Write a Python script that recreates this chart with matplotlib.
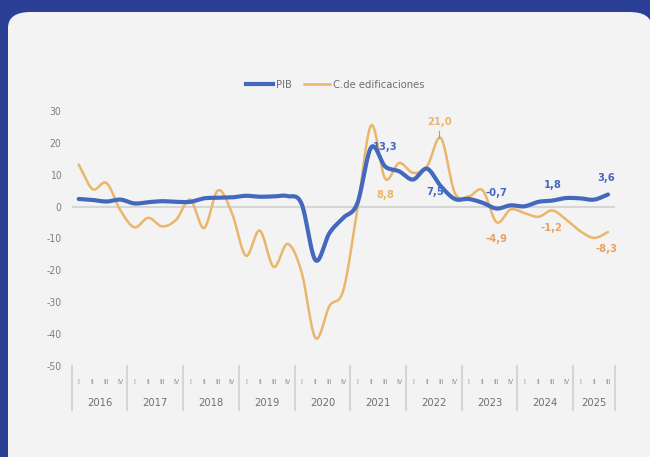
import numpy as np
import matplotlib
matplotlib.use('Agg')
import matplotlib.pyplot as plt
from matplotlib import font_manager
from matplotlib.patches import FancyBboxPatch
from matplotlib.lines import Line2D

# narrow font if one is installed, the original uses a condensed face
installed = {f.name for f in font_manager.fontManager.ttflist}
condensed_dejavu = any(f.name == 'DejaVu Sans' and 'Condensed' in f.fname
                       for f in font_manager.fontManager.ttflist)
if 'Liberation Sans Narrow' in installed:
    plt.rcParams['font.family'] = ['Liberation Sans Narrow', 'DejaVu Sans']
elif condensed_dejavu:
    plt.rcParams['font.family'] = ['DejaVu Sans']
    plt.rcParams['font.stretch'] = 'condensed'
else:
    plt.rcParams['font.family'] = ['Roboto', 'DejaVu Sans']
plt.rcParams['axes.unicode_minus'] = False

years = ['2016', '2017', '2018', '2019', '2020', '2021', '2022', '2023', '2024', '2025']
quarter_names = ['I', 'II', 'III', 'IV']
quarters_per_year = [4, 4, 4, 4, 4, 4, 4, 4, 4, 3]

pib = [2.4, 2.1, 1.6, 2.2, 1.0, 1.4, 1.7, 1.5,
       1.5, 2.6, 2.8, 2.9, 3.4, 3.1, 3.2, 3.3,
       0.9, -16.8, -8.3, -3.5, 1.0, 18.6, 12.6, 11.1,
       8.5, 11.9, 6.4, 2.4, 2.4, 1.2, -0.6, 0.4,
       0.1, 1.5, 1.9, 2.7, 2.6, 2.2, 3.8]
edificaciones = [13.2, 5.5, 7.4, -1.2, -6.5, -3.5, -6.2, -4.1,
                 2.2, -6.7, 5.1, -2.0, -15.4, -7.5, -18.9, -11.7,
                 -20.5, -41.2, -31.2, -26.2, -1.0, 25.5, 8.8, 13.7,
                 10.6, 12.6, 21.5, 4.3, 3.2, 5.1, -4.9, -0.9,
                 -2.0, -3.2, -1.2, -4.1, -7.7, -9.8, -8.0]

# data labels: (text, quarter index, value position)
pib_labels = [('13,3', 22.0, 18.6), ('7,5', 25.6, 4.6), ('-0,7', 30.0, 4.3),
              ('1,8', 34.0, 6.9), ('3,6', 37.9, 9.0)]
edif_labels = [('8,8', 22.0, 3.5), ('21,0', 25.9, 26.6), ('-4,9', 30.0, -10.3),
               ('-1,2', 33.95, -6.7), ('-8,3', 37.9, -13.3)]

BLUE = '#4568bf'
ORANGE = '#e9b66c'
ORANGE_NEG = '#e8a263'
GREY = '#7f7f7f'


def smooth(y, steps=20):
    # catmull-rom curve through the points, like excel smoothed lines
    y = np.asarray(y, dtype=float)
    x = np.arange(len(y), dtype=float)
    px = np.concatenate([[2 * x[0] - x[1]], x, [2 * x[-1] - x[-2]]])
    py = np.concatenate([[2 * y[0] - y[1]], y, [2 * y[-1] - y[-2]]])
    xs, ys = [], []
    t = np.linspace(0, 1, steps, endpoint=False)
    for i in range(1, len(px) - 2):
        for arr, out in ((px, xs), (py, ys)):
            p0, p1, p2, p3 = arr[i - 1], arr[i], arr[i + 1], arr[i + 2]
            out.extend(0.5 * (2 * p1 + (-p0 + p2) * t
                              + (2 * p0 - 5 * p1 + 4 * p2 - p3) * t ** 2
                              + (-p0 + 3 * p1 - 3 * p2 + p3) * t ** 3))
    xs.append(x[-1])
    ys.append(y[-1])
    return np.array(xs), np.array(ys)


fig = plt.figure(figsize=(6.5, 4.57), dpi=100)
fig.patch.set_facecolor('#2c3f96')
W, H = 650, 457
panel = FancyBboxPatch((8 / W, -20 / H), 644 / W, (H - 12 + 20) / H,
                       boxstyle='round,pad=0,rounding_size=0.035',
                       transform=fig.transFigure, facecolor='#f3f3f3',
                       edgecolor='none', zorder=-5)
fig.patches.append(panel)

ax = fig.add_axes([71.7 / W, 1 - 366 / H, (615 - 71.7) / W, 255 / H])
ax.set_zorder(2)
ax.set_facecolor('none')

n = len(pib)
ax.axhline(0, color='#d6d6d6', lw=1.5, zorder=1)

xb, yb = smooth(pib)
xo, yo = smooth(edificaciones)
ax.plot(xo, yo, color=ORANGE, lw=1.8, zorder=2, solid_capstyle='round')
ax.plot(xb, yb, color=BLUE, lw=3.0, zorder=3, solid_capstyle='round')

ax.set_xlim(-0.5, n - 0.5)
ax.set_ylim(-50, 30)
ax.set_yticks(np.arange(-50, 31, 10))
ax.tick_params(axis='y', length=0, pad=7.5, labelsize=7.5, labelcolor=GREY)
ax.set_xticks([])
for s in ax.spines.values():
    s.set_visible(False)

for txt, xi, yv in pib_labels:
    ax.text(xi, yv, txt, color=BLUE, fontsize=8, fontweight='bold',
            ha='center', va='center', zorder=4)
for txt, xi, yv in edif_labels:
    col = ORANGE_NEG if txt.startswith('-') else ORANGE
    ax.text(xi, yv, txt, color=col, fontsize=8, fontweight='bold',
            ha='center', va='center', zorder=4)
ax.plot([25.9, 25.9], [21.6, 23.6], color='#a0a0a0', lw=0.8, zorder=4)

# two level category axis: quarters and years
tr = ax.get_xaxis_transform()
pos = 0
ax.plot([-0.5, -0.5], [0, -0.1725], transform=tr, color='#d6d6d6', lw=1.5, clip_on=False)
for year, nq in zip(years, quarters_per_year):
    for q in range(nq):
        ax.text(pos + q, -0.063, quarter_names[q], transform=tr, ha='center', va='center',
                fontsize=5, color='#8c8c8c')
    ax.text(pos + (nq - 1) / 2, -0.145, year, transform=tr, ha='center', va='center',
            fontsize=8, color='#6f6f6f')
    pos += nq
    ax.plot([pos - 0.5, pos - 0.5], [0, -0.1725], transform=tr, color='#d6d6d6',
            lw=1.5, clip_on=False)

handles = [Line2D([], [], color=BLUE, lw=3.0), Line2D([], [], color=ORANGE, lw=1.8)]
leg = fig.legend(handles, ['PIB', 'C.de edificaciones'], loc='center',
                 bbox_to_anchor=(0.516, 1 - 85 / H), ncol=2, frameon=False,
                 fontsize=8, handlelength=2.4, handletextpad=0.25, columnspacing=1.1)
for t in leg.get_texts():
    t.set_color('#6f6f6f')

fig.savefig('out.png', dpi=100)
